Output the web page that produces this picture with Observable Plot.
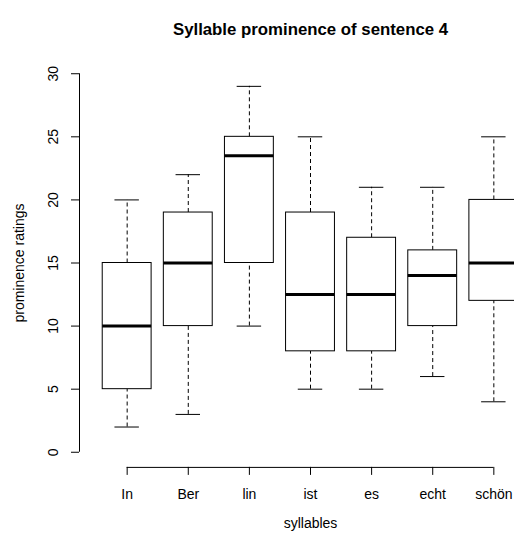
<!DOCTYPE html>
<html>
<head>
<meta charset="utf-8">
<script src="https://cdn.jsdelivr.net/npm/d3@7"></script>
<script src="https://cdn.jsdelivr.net/npm/@observablehq/plot@0.6"></script>
<style>
  html, body { margin: 0; padding: 0; background: white; overflow: hidden; }
</style>
</head>
<body>
<div id="chart"></div>
<script>
const syllables = ["In", "Ber", "lin", "ist", "es", "echt", "schön"];
const mins    = [2, 3, 10, 5, 5, 6, 4];
const q1s     = [5, 10, 15, 8, 8, 10, 12];
const medians = [10, 15, 23.5, 12.5, 12.5, 14, 15];
const q3s     = [15, 19, 25, 19, 17, 16, 20];
const maxs    = [20, 22, 29, 25, 21, 21, 25];
const yTicks  = [0, 5, 10, 15, 20, 25, 30];
const title = "Syllable prominence of sentence 4";
const xTitle = "syllables";
const yTitle = "prominence ratings";

const data = syllables.map((s, k) => ({
  name: s, i: k + 1, min: mins[k], q1: q1s[k], med: medians[k], q3: q3s[k], max: maxs[k]
}));
const xIdx = data.map(d => d.i);

const font = "'Liberation Sans', Arial, Helvetica, sans-serif";

const chart = Plot.plot({
  width: 514,
  height: 536,
  marginLeft: 79,
  marginRight: 0,
  marginTop: 58.1,
  marginBottom: 69.1,
  style: { fontFamily: font, fontSize: "14px", background: "white", overflow: "hidden", color: "black" },
  x: { domain: [0.22, 7.78], range: [79, 541], axis: null },
  y: { domain: [-1.2, 31.2], axis: null },
  marks: [
    // whiskers
    Plot.ruleX(data, { x: "i", y1: "q3", y2: "max", stroke: "black", strokeWidth: 1, strokeDasharray: "4,3" }),
    Plot.ruleX(data, { x: "i", y1: "min", y2: "q1", stroke: "black", strokeWidth: 1, strokeDasharray: "4,3" }),
    // staples
    Plot.ruleY(data, { y: "max", x1: d => d.i - 0.2, x2: d => d.i + 0.2, stroke: "black", strokeWidth: 1 }),
    Plot.ruleY(data, { y: "min", x1: d => d.i - 0.2, x2: d => d.i + 0.2, stroke: "black", strokeWidth: 1 }),
    // boxes
    Plot.rect(data, { x1: d => d.i - 0.4, x2: d => d.i + 0.4, y1: "q1", y2: "q3", fill: "white", stroke: "black", strokeWidth: 1 }),
    // medians
    Plot.ruleY(data, { y: "med", x1: d => d.i - 0.4, x2: d => d.i + 0.4, stroke: "black", strokeWidth: 3 }),
    // y axis
    Plot.ruleX([0.22], { y1: 0, y2: 30, stroke: "black" }),
    Plot.axisY({ ticks: yTicks, tickSize: 8, tickFormat: () => "", label: null, stroke: "black" }),
    Plot.text(yTicks, { x: 0.22, y: d => d, dx: -26, rotate: -90, text: d => String(d), fill: "black", fontSize: 14 }),
    // x axis
    Plot.ruleY([-1.2], { x1: 1, x2: 7, stroke: "black" }),
    Plot.axisX({ ticks: xIdx, tickSize: 8, tickFormat: () => "", label: null, stroke: "black" }),
    Plot.text(data, { x: "i", y: -1.2, dy: 27.4, text: "name", fill: "black", fontSize: 14 }),
    // titles
    Plot.text([title], { x: 4, frameAnchor: "top", dy: -35.6, text: d => d, fontWeight: "bold", fontSize: 16.8, fill: "black" }),
    Plot.text([xTitle], { x: 4, frameAnchor: "bottom", dy: 60.5, text: d => d, fontSize: 14, fill: "black" }),
    Plot.text([yTitle], { x: 0.22, y: 15, dx: -60, rotate: -90, text: d => d, fontSize: 14, fill: "black" })
  ]
});
document.getElementById("chart").appendChild(chart);
</script>
</body>
</html>
